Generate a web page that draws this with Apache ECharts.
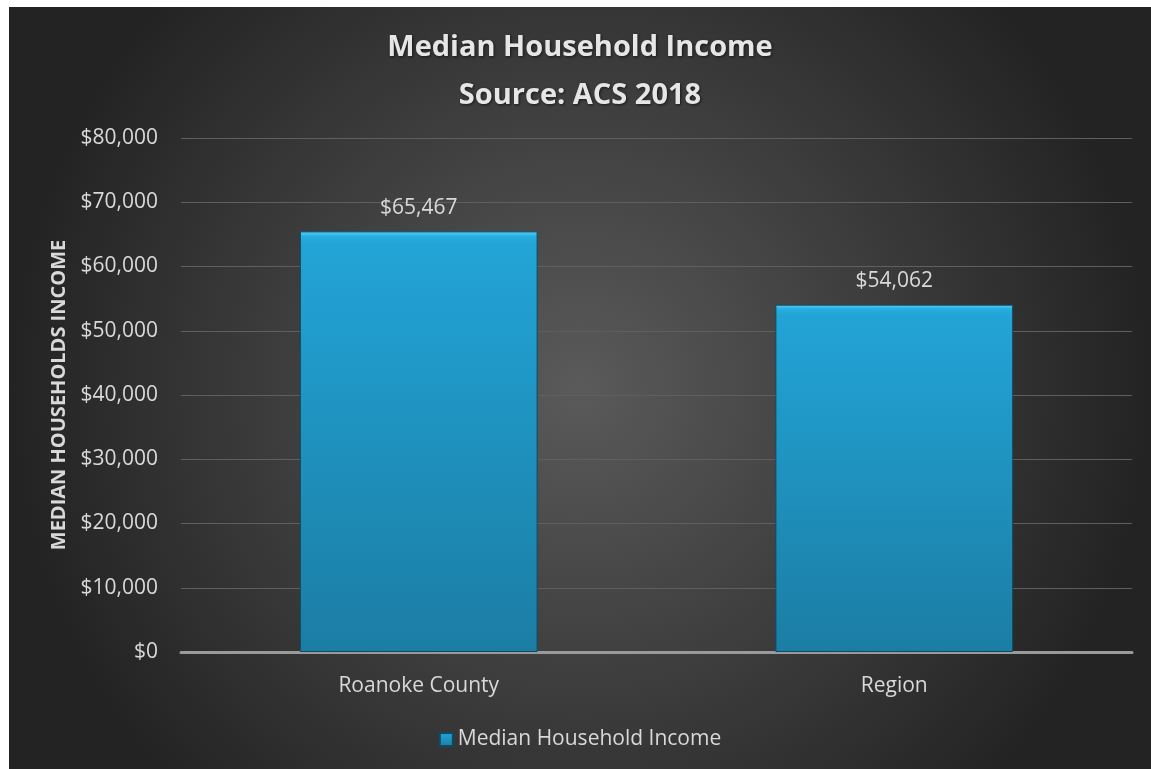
<!DOCTYPE html>
<html><head><meta charset="utf-8">
<script src="https://cdn.jsdelivr.net/npm/echarts@6/dist/echarts.min.js"></script>
<style>
html,body{margin:0;padding:0;background:#fff;}
#c{position:absolute;left:9px;top:7px;width:1142px;height:762px;}
</style></head><body>
<div id="c"></div>
<script>
const categories = ["Roanoke County", "Region"];
const seriesName = "Median Household Income";
const values = [65467, 54062];
const yTicks = {min: 0, max: 80000, interval: 10000};
const titleLines = ["Median Household Income", "Source: ACS 2018"];
const yAxisName = "MEDIAN HOUSEHOLDS INCOME";

const fmt = v => "$" + v.toLocaleString("en-US");
const txt = "#d9d9d9";
const chart = echarts.init(document.getElementById("c"));
chart.setOption({
  backgroundColor: {type:"radial", x:0.5, y:0.5, r:0.75,
    colorStops:[{offset:0,color:"#5a5a5a"},{offset:1,color:"#232323"}]},
  title: {text: titleLines.join("\n"), left: "center", top: 12,
    textStyle:{color:"#e6e6e6", fontFamily:"Open Sans", fontWeight:"bold", fontSize:29, lineHeight:48,
      textShadowColor:"rgba(0,0,0,0.6)", textShadowBlur:3, textShadowOffsetX:1, textShadowOffsetY:1}},
  grid: {left:172, right:19, top:131, bottom:117},
  legend: {bottom: 14, left:"center", itemWidth:13, itemHeight:13, itemGap:6,
    icon:"rect",
    textStyle:{color:txt, fontFamily:"Open Sans", fontSize:21}},
  xAxis: {type:"category", data: categories,
    axisLine:{lineStyle:{color:"#9a9a9a", width:3}}, axisTick:{show:false},
    axisLabel:{color:txt, fontFamily:"Open Sans", fontSize:21, margin:24}},
  yAxis: {type:"value", min:yTicks.min, max:yTicks.max, interval:yTicks.interval,
    name: yAxisName, nameLocation:"middle", nameGap:112, nameRotate:90,
    nameTextStyle:{color:txt, fontFamily:"Open Sans", fontWeight:"bold", fontSize:20},
    axisLine:{show:false}, axisTick:{show:false},
    axisLabel:{color:txt, fontFamily:"Open Sans", fontSize:21, margin:23, formatter: v => fmt(v)},
    splitLine:{lineStyle:{color:"#5f5f5f", width:1}}},
  series: [{name: seriesName, type:"bar", data: values, barWidth:"50%",
    itemStyle:{
      color:{type:"linear", x:0, y:0, x2:0, y2:1,
        colorStops:[{offset:0,color:"#5dd3f5"},{offset:0.012,color:"#27aee0"},{offset:0.03,color:"#22a4d6"},{offset:1,color:"#1b7da4"}]},
      borderColor:"#0f4a63", borderWidth:1},
    label:{show:true, position:"top", distance:13, color:txt, fontFamily:"Open Sans", fontSize:21,
      formatter: p => fmt(p.value)}}]
});
</script></body></html>
